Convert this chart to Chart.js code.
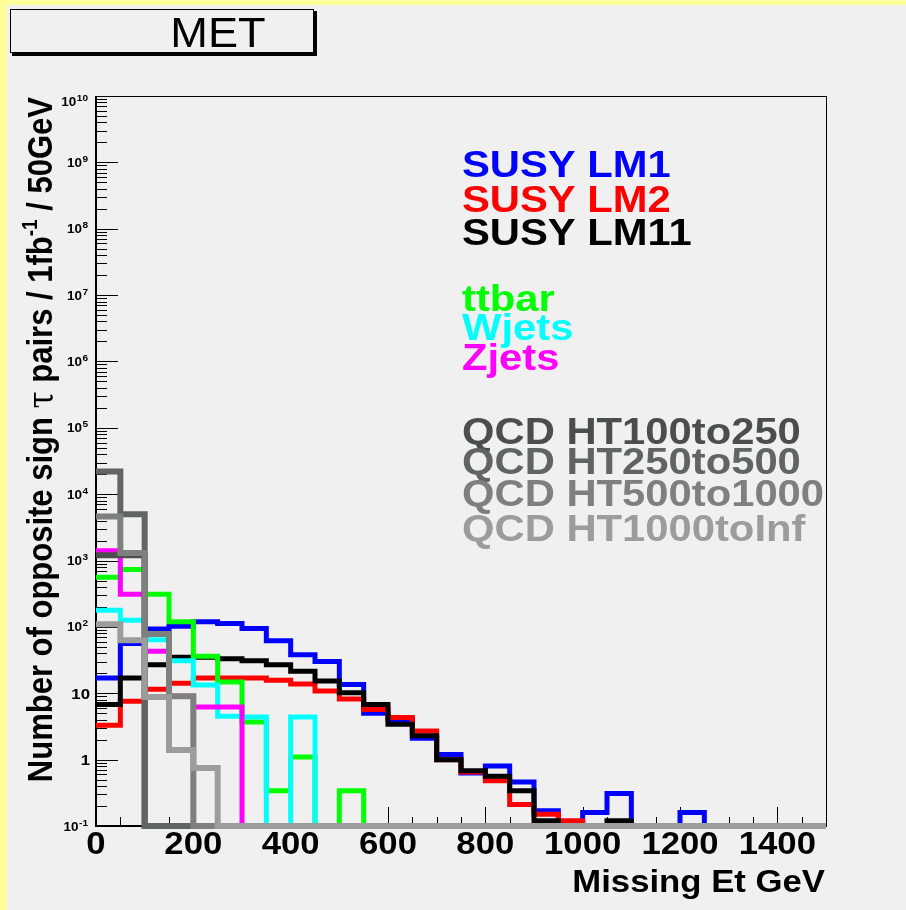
<!DOCTYPE html>
<html>
<head>
<meta charset="utf-8">
<title>MET</title>
<script src="https://cdn.jsdelivr.net/npm/chart.js@4.4.0/dist/chart.umd.min.js"></script>
<style>
  html, body { margin: 0; padding: 0; background: #f0f0f0; }
  canvas { display: block; }
</style>
</head>
<body>
<canvas id="met" width="906" height="910"></canvas>
<script>
// --- binning: 30 bins of 50 GeV from 0 to 1500 ---
const binWidth = 50;
const xMin = 0;
const xMax = 1500;
const yMin = 0.1;
const yMax = 1e10;

// events per bin (1 fb^-1), empty bins are 0
const lm1     = [17, 56, 93, 102, 120, 113, 95, 62, 38, 30, 13.5, 5.0, 4.0, 2.1, 1.2, 0.63, 0.8, 0.46, 0.17, 0, 0.16, 0.31, 0, 0, 0.16, 0, 0, 0, 0, 0];
const lm2     = [3.3, 7.6, 11.5, 14.2, 17, 17, 17, 15.7, 13.8, 10.8, 8.2, 5.7, 4.3, 2.7, 1.0, 0.65, 0.48, 0.21, 0.15, 0.12, 0, 0, 0, 0, 0, 0, 0, 0, 0, 0];
const lm11    = [6.8, 17, 27, 35, 35, 33, 31, 27, 21.5, 15.3, 10.2, 6.8, 3.4, 2.3, 1.0, 0.68, 0.56, 0.34, 0.12, 0, 0, 0.12, 0, 0, 0, 0, 0, 0, 0, 0];
const ttbar   = [560, 730, 310, 120, 36, 14.8, 3.7, 0.34, 1.1, 0, 0.34, 0, 0, 0, 0, 0, 0, 0, 0, 0, 0, 0, 0, 0, 0, 0, 0, 0, 0, 0];
const wjets   = [178, 126, 64, 31, 13.3, 4.5, 4.4, 0, 4.4, 0, 0, 0, 0, 0, 0, 0, 0, 0, 0, 0, 0, 0, 0, 0, 0, 0, 0, 0, 0, 0];
const zjets   = [1400, 310, 43, 9, 6.2, 6.2, 0, 0, 0, 0, 0, 0, 0, 0, 0, 0, 0, 0, 0, 0, 0, 0, 0, 0, 0, 0, 0, 0, 0, 0];
const qcd100  = [1200, 1200, 0, 0, 0, 0, 0, 0, 0, 0, 0, 0, 0, 0, 0, 0, 0, 0, 0, 0, 0, 0, 0, 0, 0, 0, 0, 0, 0, 0];
const qcd250  = [22000, 5000, 0, 0, 0, 0, 0, 0, 0, 0, 0, 0, 0, 0, 0, 0, 0, 0, 0, 0, 0, 0, 0, 0, 0, 0, 0, 0, 0, 0];
const qcd500  = [4600, 1300, 78, 9, 0, 0, 0, 0, 0, 0, 0, 0, 0, 0, 0, 0, 0, 0, 0, 0, 0, 0, 0, 0, 0, 0, 0, 0, 0, 0];
const qcd1000 = [110, 63, 8.8, 1.4, 0.75, 0, 0, 0, 0, 0, 0, 0, 0, 0, 0, 0, 0, 0, 0, 0, 0, 0, 0, 0, 0, 0, 0, 0, 0, 0];

const sampleNames  = ["SUSY LM1", "SUSY LM2", "SUSY LM11", "ttbar", "Wjets", "Zjets",
                      "QCD HT100to250", "QCD HT250to500", "QCD HT500to1000", "QCD HT1000toInf"];
const sampleValues = [lm1, lm2, lm11, ttbar, wjets, zjets, qcd100, qcd250, qcd500, qcd1000];

// axis labels
const xTickLabels = [0, 200, 400, 600, 800, 1000, 1200, 1400];
const yDecades = [-1, 0, 1, 2, 3, 4, 5, 6, 7, 8, 9, 10];

// --- styles ---
const sampleColors = ["#0000ff", "#ff0000", "#000000", "#00ff00", "#00ffff", "#ff00ff",
                      "#4b4f4c", "#616562", "#7d807d", "#9c9c9c"];
const labelBaselines = [177, 212, 245, 311, 340, 370, 444, 474, 506, 541];
const SX = 1.12;   // text is a bit wider than tall
const FONT = '"Liberation Sans", Arial, sans-serif';

function stretchedText(ctx, str, x, y, font, color, align, sx) {
    ctx.save();
    ctx.font = font;
    ctx.fillStyle = color;
    ctx.textAlign = align || "left";
    ctx.textBaseline = "alphabetic";
    ctx.translate(x, y);
    ctx.scale(sx || SX, 1);
    ctx.fillText(str, 0, 0);
    ctx.restore();
}

// histogram outline: one point per bin low edge + closing point at xMax
function histPoints(values) {
    const pts = values.map((v, i) => ({ x: xMin + i * binWidth, y: v > 0 ? v : yMin }));
    pts.push({ x: xMax, y: pts[pts.length - 1].y });
    return pts;
}

// pad background, yellow edge and title box
const rootPad = {
    id: "rootPad",
    beforeDraw(chart) {
        const ctx = chart.ctx;
        ctx.save();
        ctx.fillStyle = "#f0f0f0";
        ctx.fillRect(0, 0, chart.width, chart.height);
        ctx.fillStyle = "#ffff99";
        ctx.fillRect(0, 0, chart.width, 5);
        ctx.fillRect(0, 0, 7, chart.height);

        // title box with shadow
        ctx.fillStyle = "#000";
        ctx.fillRect(12, 11, 305, 45);
        ctx.fillStyle = "#f0f0f0";
        ctx.fillRect(10, 9, 304, 44);
        ctx.strokeStyle = "#000";
        ctx.lineWidth = 1;
        ctx.strokeRect(10.5, 9.5, 303, 43);
        ctx.restore();
        stretchedText(ctx, "MET", 218, 47, "43px " + FONT, "#000", "center", 1.05);
    },

    // frame and inside ticks
    beforeDatasetsDraw(chart) {
        const ctx = chart.ctx;
        const xs = chart.scales.x, ys = chart.scales.y;
        const { left, right, top, bottom } = chart.chartArea;
        ctx.save();
        ctx.strokeStyle = "#000";
        ctx.lineWidth = 1;
        ctx.strokeRect(left + 0.5, top + 0.5, right - left, bottom - top);
        ctx.lineWidth = 2;
        ctx.beginPath();
        ctx.moveTo(left, top);
        ctx.lineTo(left, bottom);
        ctx.lineTo(right, bottom);
        ctx.stroke();

        ctx.lineWidth = 1;
        ctx.beginPath();
        for (let n = -1; n < 10; n++) {
            for (let k = 1; k <= 9; k++) {
                const py = Math.round(ys.getPixelForValue(k * Math.pow(10, n))) + 0.5;
                const len = k === 1 ? 22 : 11;
                ctx.moveTo(left, py);
                ctx.lineTo(left + len, py);
            }
        }
        const pTop = Math.round(ys.getPixelForValue(yMax)) + 0.5;
        ctx.moveTo(left, pTop);
        ctx.lineTo(left + 22, pTop);

        for (let v = xMin; v <= xMax; v += binWidth) {
            const px = Math.round(xs.getPixelForValue(v)) + 0.5;
            const len = v % 200 === 0 ? 19 : 9;
            ctx.moveTo(px, bottom);
            ctx.lineTo(px, bottom - len);
        }
        ctx.stroke();
        ctx.restore();
    },

    // tick labels, axis titles and sample names
    afterDraw(chart) {
        const ctx = chart.ctx;
        const xs = chart.scales.x, ys = chart.scales.y;
        const { left, right, top, bottom } = chart.chartArea;

        xTickLabels.forEach(v => {
            stretchedText(ctx, String(v), xs.getPixelForValue(v), 854, "bold 31px " + FONT, "#000", "center");
        });

        yDecades.forEach(n => {
            const py = ys.getPixelForValue(Math.pow(10, n));
            if (n === 0 || n === 1) {
                stretchedText(ctx, n === 0 ? "1" : "10", 90, py + 5.5, "bold 15px " + FONT, "#000", "right");
            } else {
                const base = Math.max(py + 4.5, top + 10);
                const e = String(n);
                ctx.font = "bold 9px " + FONT;
                const ew = ctx.measureText(e).width * SX;
                stretchedText(ctx, e, 88, base - 5, "bold 9px " + FONT, "#000", "right");
                stretchedText(ctx, "10", 88 - ew - 0.5, base, "bold 12px " + FONT, "#000", "right");
            }
        });

        stretchedText(ctx, "Missing Et GeV", right - 1, 892, "bold 31px " + FONT, "#000", "right");

        // y title, read bottom to top, ends at the frame top
        const parts = [
            { t: "Number of opposite sign ", f: "bold 31px " + FONT, dy: 0 },
            { t: "\u03c4", f: "31px \"DejaVu Serif\", serif", dy: 0 },
            { t: " pairs / 1fb", f: "bold 31px " + FONT, dy: 0 },
            { t: "-1", f: "bold 19px " + FONT, dy: -13 },
            { t: " / 50GeV", f: "bold 31px " + FONT, dy: 0 }
        ];
        let total = 0;
        parts.forEach(p => { ctx.font = p.f; p.w = ctx.measureText(p.t).width; total += p.w; });
        ctx.save();
        ctx.translate(52, top + 1 + total);
        ctx.scale(SX, 1);
        ctx.rotate(-Math.PI / 2);
        ctx.fillStyle = "#000";
        ctx.textBaseline = "alphabetic";
        let u = 0;
        parts.forEach(p => {
            ctx.font = p.f;
            ctx.fillText(p.t, u, p.dy);
            u += p.w;
        });
        ctx.restore();

        sampleNames.forEach((name, i) => {
            stretchedText(ctx, name, 462, labelBaselines[i], "bold 36px " + FONT, sampleColors[i], "left", 1.16);
        });
    }
};

const datasets = sampleValues.map((vals, i) => ({
    label: sampleNames[i],
    data: histPoints(vals),
    borderColor: sampleColors[i],
    borderWidth: i >= 6 ? 6 : 5,
    borderJoinStyle: "miter",
    borderCapStyle: "butt",
    stepped: true,
    fill: false,
    pointRadius: 0,
    tension: 0,
    order: sampleValues.length - i,
    clip: { left: 0, top: 0, right: 0, bottom: 4 }
}));

new Chart(document.getElementById("met"), {
    type: "line",
    data: { datasets: datasets },
    options: {
        responsive: false,
        maintainAspectRatio: false,
        devicePixelRatio: 1,
        animation: false,
        layout: { padding: { left: 96, top: 96, right: 80, bottom: 84 } },
        plugins: { legend: { display: false }, tooltip: { enabled: false }, title: { display: false } },
        scales: {
            x: { type: "linear", min: xMin, max: xMax, display: false },
            y: { type: "logarithmic", min: yMin, max: yMax, display: false }
        }
    },
    plugins: [rootPad]
});
</script>
</body>
</html>
